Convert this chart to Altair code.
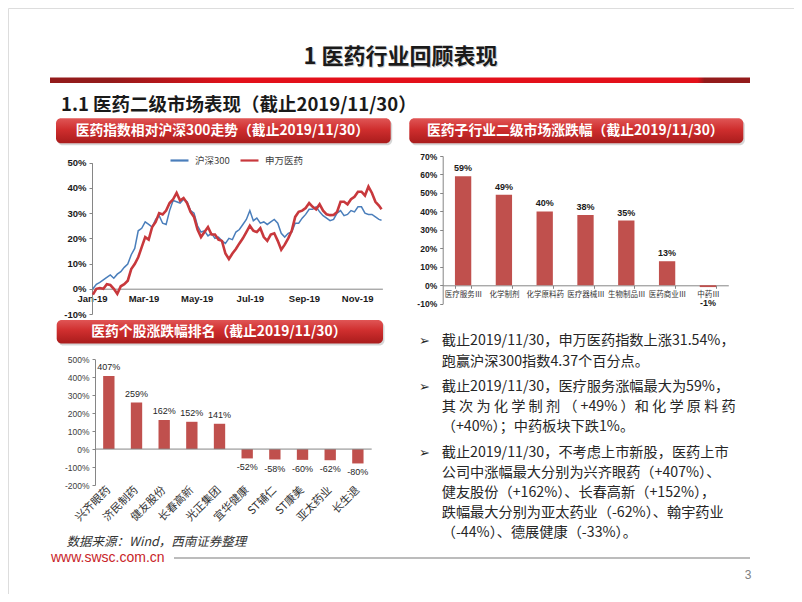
import altair as alt
import pandas as pd

W, H = 786, 586

# ---------------- data ----------------
dates = [
    "2019-01-02", "2019-01-06", "2019-01-10", "2019-01-14", "2019-01-18", "2019-01-22", "2019-01-26", "2019-01-30",
    "2019-02-03", "2019-02-07", "2019-02-11", "2019-02-15", "2019-02-19", "2019-02-23", "2019-02-27",
    "2019-03-03", "2019-03-07", "2019-03-11", "2019-03-15", "2019-03-19", "2019-03-23", "2019-03-27", "2019-03-31",
    "2019-04-04", "2019-04-08", "2019-04-12", "2019-04-16", "2019-04-20", "2019-04-24", "2019-04-28",
    "2019-05-02", "2019-05-06", "2019-05-10", "2019-05-14", "2019-05-18", "2019-05-22", "2019-05-26", "2019-05-30",
    "2019-06-03", "2019-06-07", "2019-06-11", "2019-06-15", "2019-06-19", "2019-06-23", "2019-06-27",
    "2019-07-01", "2019-07-05", "2019-07-09", "2019-07-13", "2019-07-17", "2019-07-21", "2019-07-25", "2019-07-29",
    "2019-08-02", "2019-08-06", "2019-08-10", "2019-08-14", "2019-08-18", "2019-08-22", "2019-08-26", "2019-08-30",
    "2019-09-03", "2019-09-07", "2019-09-11", "2019-09-15", "2019-09-19", "2019-09-23", "2019-09-27",
    "2019-10-01", "2019-10-05", "2019-10-09", "2019-10-13", "2019-10-17", "2019-10-21", "2019-10-25", "2019-10-29",
    "2019-11-02", "2019-11-06", "2019-11-10", "2019-11-14", "2019-11-18", "2019-11-22", "2019-11-26", "2019-11-29",
]
hs300 = [
    0.0, 1.8, 2.5, 3.5, 4.5, 5.5, 4.2, 5.8,
    6.8, 8.5, 9.8, 13.5, 16.0, 23.0, 24.0,
    26.5, 25.5, 24.5, 27.5, 29.0, 26.0, 25.5, 31.0, 35.0,
    34.5, 34.0, 35.5, 34.5, 31.0, 30.0, 25.0,
    22.5, 23.0, 21.0, 22.0, 20.0, 20.5, 19.0, 18.0,
    20.0, 19.5, 22.5, 23.5, 25.5, 27.5, 31.0,
    27.0, 28.0, 26.0, 26.5, 25.5, 26.5, 27.5, 26.0,
    22.0, 20.5, 22.0, 22.5, 26.0, 26.0, 28.0, 29.5,
    31.5, 31.5, 32.5, 30.5, 29.0, 28.0, 27.0,
    27.5, 30.0, 31.0, 29.0, 29.5, 31.0, 30.5, 32.5,
    32.5, 30.0, 29.5, 29.5, 28.5, 27.5, 27.2,
]
swyy = [
    -2.3, 0.0, 0.3, 0.0, 1.8, 1.5, 0.0, -2.0,
    1.0, 1.8, 3.2, 7.8, 9.8, 12.5, 16.5,
    20.5, 19.5, 24.5, 26.5, 30.0, 29.5, 31.0, 34.0, 35.5,
    38.0, 35.0, 36.0, 34.0, 30.5, 28.5, 23.5,
    20.5, 22.5, 24.5, 21.5, 21.5, 19.5, 19.0, 14.0,
    11.8, 14.0, 15.8, 18.0, 20.0, 22.5, 25.0,
    23.0, 22.5, 24.0, 20.5, 19.0, 21.5, 22.0, 19.0,
    15.5, 17.5, 20.0, 23.0, 28.5, 30.5, 31.0, 32.0,
    34.0, 32.5, 31.5, 33.5, 31.0, 29.5, 29.2,
    29.3, 30.5, 34.5, 34.5, 33.5, 35.5, 36.5, 38.5,
    38.5, 37.0, 40.5, 38.0, 34.5, 33.0, 31.5,
]
series_names = ["沪深300", "申万医药"]
line_colors = ["#4a7ebb", "#c8383c"]
month_ticks = [1, 3, 5, 7, 9, 11]
line_y_ticks = [-10, 0, 10, 20, 30, 40, 50]

sub_inds = ["医疗服务Ⅲ", "化学制剂", "化学原料药", "医疗器械Ⅲ", "生物制品Ⅲ", "医药商业Ⅲ", "中药Ⅲ"]
sub_vals = [59, 49, 40, 38, 35, 13, -1]
sub_y_ticks = [-10, 0, 10, 20, 30, 40, 50, 60, 70]

stocks = ["兴齐眼药", "济民制药", "健友股份", "长春高新", "光正集团",
          "宜华健康", "ST辅仁", "ST康美", "亚太药业", "长生退"]
stock_vals = [407, 259, 162, 152, 141, -52, -58, -60, -62, -80]
stock_y_ticks = [-200, -100, 0, 100, 200, 300, 400, 500]

title_text = "1 医药行业回顾表现"
subtitle_text = "1.1 医药二级市场表现（截止2019/11/30）"
banner_texts = ["医药指数相对沪深300走势（截止2019/11/30）",
                "医药子行业二级市场涨跌幅（截止2019/11/30）",
                "医药个股涨跌幅排名（截止2019/11/30）"]
bullets = [
    ["截止2019/11/30，申万医药指数上涨31.54%，",
     "跑赢沪深300指数4.37个百分点。"],
    ["截止2019/11/30，医疗服务涨幅最大为59%，",
     "其 次 为 化 学 制 剂 （ +49% ）和 化 学 原 料 药",
     "（+40%）；中药板块下跌1%。"],
    ["截止2019/11/30，不考虑上市新股，医药上市",
     "公司中涨幅最大分别为兴齐眼药（+407%）、",
     "健友股份（+162%）、长春高新（+152%），",
     "跌幅最大分别为亚太药业（-62%）、翰宇药业",
     "（-44%）、德展健康（-33%）。"],
]
source_text = "数据来源：Wind，西南证券整理"
site_text = "www.swsc.com.cn"
page_text = "3"

CJK = "Noto Sans CJK SC"
LAT = "Liberation Sans"
AX = "#868686"
dummy = pd.DataFrame({"k": [0]})

# ---------------- line chart ----------------
line_df = pd.DataFrame({
    "date": dates + dates,
    "series": [series_names[0]] * len(dates) + [series_names[1]] * len(dates),
    "value": hs300 + swyy,
})
x_line = alt.X(
    "date:T", title=None,
    scale=alt.Scale(domain=[alt.DateTime(year=2019, month=1, date=1),
                            alt.DateTime(year=2019, month=11, date=30)],
                    range=[84, 374.4], nice=False),
    axis=alt.Axis(orient="bottom", offset=280.7 - H,
                  values=[alt.DateTime(year=2019, month=m, date=1) for m in month_ticks],
                  format="%b-%y", ticks=False, grid=False, domainColor=AX,
                  labelFont=LAT, labelFontSize=9.5, labelFontWeight="bold",
                  labelColor="#1a1a1a", labelPadding=5, labelOverlap=False,
                  labelFlush=False, title=None),
)
y_line = alt.Y(
    "value:Q", title=None,
    scale=alt.Scale(domain=[-10, 50], range=[306, 154.7], nice=False, zero=False),
    axis=alt.Axis(orient="left", offset=-84, values=line_y_ticks,
                  labelExpr="datum.value + '%'", grid=False, domainColor=AX,
                  tickColor=AX, tickSize=3, labelFont=LAT, labelFontSize=9.5,
                  labelFontWeight="bold", labelColor="#1a1a1a", labelPadding=3,
                  title=None),
)
legend_line = alt.Legend(orient="none", legendX=161, legendY=142,
                         direction="horizontal", title=None, symbolType="stroke",
                         symbolSize=324, symbolStrokeWidth=2.2, labelFont=CJK,
                         labelFontSize=9.5, labelColor="#404040", columnPadding=6,
                         labelOffset=5, padding=0)
color_line = alt.Color("series:N",
                       scale=alt.Scale(domain=series_names, range=line_colors),
                       legend=legend_line)
base_line = alt.Chart(line_df).encode(x=x_line, y=y_line, color=color_line)
line_sub = alt.layer(
    base_line.transform_filter(alt.datum.series == series_names[0]).mark_line(strokeWidth=1.5),
    base_line.transform_filter(alt.datum.series == series_names[1]).mark_line(strokeWidth=2.6),
)

# ---------------- sub-industry bar chart ----------------
sub_df = pd.DataFrame({"cat": sub_inds, "v": sub_vals})
x_sub = alt.X(
    "cat:N", sort=sub_inds, title=None,
    scale=alt.Scale(domain=sub_inds, range=[434.7, 720.3], paddingInner=0.6, paddingOuter=0.3),
    axis=alt.Axis(orient="bottom", offset=277.3 - H, tickBand="extent", tickSize=3,
                  tickColor=AX, domainColor=AX, labelAngle=0, labelFont=CJK,
                  labelFontSize=7.5, labelColor="#333333", labelPadding=2,
                  labelOverlap=False, grid=False, title=None),
)
y_sub = alt.Y(
    "v:Q", title=None,
    scale=alt.Scale(domain=[-10, 70], range=[295.7, 148], nice=False, zero=False),
    axis=alt.Axis(orient="left", offset=-434.7, values=sub_y_ticks,
                  labelExpr="datum.value + '%'", grid=False, domainColor=AX,
                  tickColor=AX, tickSize=3, labelFont=LAT, labelFontSize=8.5,
                  labelFontWeight="bold", labelColor="#1a1a1a", labelPadding=3,
                  title=None),
)
base_sub = alt.Chart(sub_df).encode(x=x_sub, y=y_sub)
sub_layer = alt.layer(
    base_sub.mark_bar(color="#c0504d"),
    base_sub.transform_filter("datum.v >= 0").transform_calculate(lab="datum.v + '%'")
    .mark_text(baseline="bottom", dy=-3, font=LAT, fontSize=9, fontWeight="bold", color="#1a1a1a")
    .encode(text="lab:N"),
    base_sub.transform_filter("datum.v < 0").transform_calculate(lab="datum.v + '%'")
    .mark_text(baseline="top", dy=12, font=LAT, fontSize=9, fontWeight="bold", color="#1a1a1a")
    .encode(text="lab:N"),
)

# ---------------- stock bar chart ----------------
stock_df = pd.DataFrame({"cat": stocks, "v": stock_vals})
x_stock = alt.X(
    "cat:N", sort=stocks, title=None,
    scale=alt.Scale(domain=stocks, range=[87, 363.7], paddingInner=0.59, paddingOuter=0.295),
    axis=alt.Axis(orient="bottom", offset=478 - H, domain=False, ticks=False,
                  labelAngle=315, labelAlign="right", labelBaseline="middle",
                  labelFont=CJK, labelFontSize=11, labelColor="#333333",
                  labelPadding=2, labelOverlap=False, grid=False, title=None),
)
y_stock_scale = alt.Scale(domain=[-200, 500], range=[477, 351.3], nice=False, zero=False)
y_stock_axis = alt.Axis(orient="left", offset=-87, values=stock_y_ticks,
                        labelExpr="datum.value + '%'", grid=False, domainColor=AX,
                        tickColor=AX, tickSize=3, labelFont=LAT, labelFontSize=8.5,
                        labelColor="#404040", labelPadding=3, title=None)
y_stock = alt.Y("v:Q", title=None, scale=y_stock_scale, axis=y_stock_axis)
base_stock = alt.Chart(stock_df).encode(x=x_stock, y=y_stock)
stock_layer = alt.layer(
    base_stock.mark_bar(color="#c0504d"),
    alt.Chart(dummy).mark_rule(color=AX, strokeWidth=1).encode(
        y=alt.YDatum(0, scale=y_stock_scale, axis=y_stock_axis),
        x=alt.value(87), x2=alt.value(363.7)),
    base_stock.transform_filter("datum.v >= 0").transform_calculate(lab="datum.v + '%'")
    .mark_text(baseline="bottom", dy=-4, font=LAT, fontSize=9, color="#262626")
    .encode(text="lab:N"),
    base_stock.transform_filter("datum.v < 0").transform_calculate(lab="datum.v + '%'")
    .mark_text(baseline="top", dy=5, font=LAT, fontSize=9, color="#262626")
    .encode(text="lab:N"),
)

# ---------------- decorations ----------------
def txt(s, x, y, size, align="left", **kw):
    return alt.Chart(dummy).mark_text(text=s, fontSize=size, align=align,
                                      baseline="middle", **kw).encode(
        x=alt.value(x), y=alt.value(y))


def box(x, x2, y, y2, **kw):
    return alt.Chart(dummy).mark_rect(**kw).encode(
        x=alt.value(x), x2=alt.value(x2), y=alt.value(y), y2=alt.value(y2))


bar_grad = alt.LinearGradient(
    gradient="linear", x1=0, x2=1, y1=0, y2=0,
    stops=[alt.GradientStop(color="#931b1b", offset=0),
           alt.GradientStop(color="#931b1b", offset=0.085),
           alt.GradientStop(color="#e3101a", offset=0.26),
           alt.GradientStop(color="#e3101a", offset=0.925),
           alt.GradientStop(color="#931b1b", offset=0.935),
           alt.GradientStop(color="#931b1b", offset=1)])
banner_grad = alt.LinearGradient(
    gradient="linear", x1=0, x2=0, y1=0, y2=1,
    stops=[alt.GradientStop(color="#e05555", offset=0),
           alt.GradientStop(color="#cf2e2e", offset=0.45),
           alt.GradientStop(color="#a91c1c", offset=1)])

decor = []
decor.append(txt(title_text, 393.5, 50, 22, align="center", font=CJK, fontWeight="bold",
                 color="#b0b0b0", opacity=0.6))
decor.append(txt(title_text, 392.5, 49, 22, align="center", font=CJK, fontWeight="bold",
                 color="#1a1a1a"))
decor.append(box(42, 742, 69.5, 75, fill=bar_grad))
decor.append(txt(subtitle_text, 53, 97, 18.5, font=CJK, fontWeight="bold", color="#1a1a1a"))

banners = [(48, 382.7, 110.3, 135.3), (401.3, 735.3, 110.3, 135.3), (48.7, 375, 312, 335.5)]
for (bx, bx2, by, by2), bt in zip(banners, banner_texts):
    decor.append(box(bx + 1.5, bx2 + 1.5, by + 2, by2 + 2, fill="#8a8a8a", opacity=0.35,
                     cornerRadius=5))
    decor.append(box(bx, bx2, by, by2, fill=banner_grad, cornerRadius=5))
    decor.append(txt(bt, (bx + bx2) / 2 - 1, (by + by2) / 2 + 0.5, 13.8, align="center",
                     font=CJK, fontWeight="bold", color="white"))

para_y = [[333, 353.7], [378.7, 399.3, 419.3], [445.3, 465.3, 485.3, 505.3, 525]]
for lines, ys in zip(bullets, para_y):
    decor.append(txt("➢", 411, ys[0], 13, font="DejaVu Sans", color="#262626"))
    for line, ly in zip(lines, ys):
        decor.append(txt(line, 433.7, ly, 14.2, font=CJK, color="#262626"))

decor.append(txt(source_text, 58.5, 533.7, 12.5, font=CJK, fontStyle="italic", color="#333333"))
decor.append(txt(site_text, 43, 550.3, 14, font=LAT, color="#c81e28"))
decor.append(alt.Chart(dummy).mark_rule(color="#a6a6a6", strokeWidth=1.5).encode(
    x=alt.value(166), x2=alt.value(742), y=alt.value(550)))
decor.append(txt(page_text, 740, 567, 12, align="center", font=LAT, color="#808080"))

chart = alt.layer(line_sub, sub_layer, stock_layer, *decor).resolve_scale(
    x="independent", y="independent"
).properties(
    width=W, height=H, padding=0, background="white",
    autosize=alt.AutoSizeParams(type="none", contains="padding"),
).configure_view(stroke=None).configure(font=CJK)

chart.save("out.html", embed_options={"renderer": "svg", "actions": False})
